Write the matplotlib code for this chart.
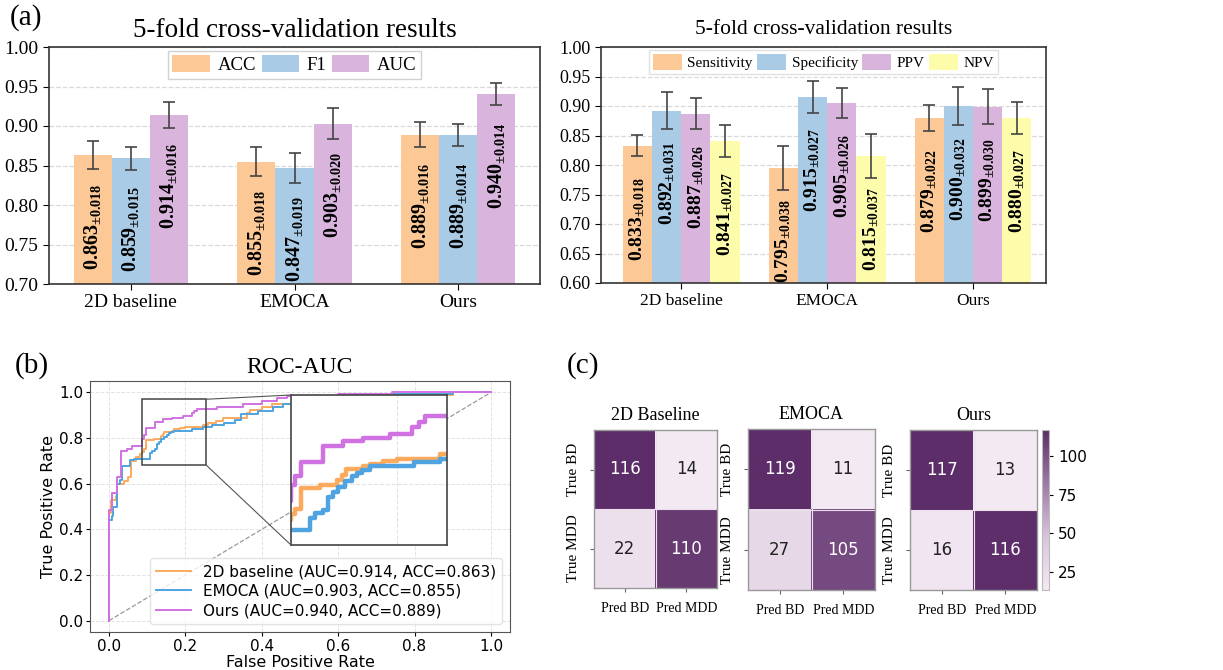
import numpy as np
import matplotlib
matplotlib.use('Agg')
import matplotlib.pyplot as plt
from matplotlib.colors import LinearSegmentedColormap
from matplotlib.patches import Rectangle, ConnectionPatch
from matplotlib.ticker import FormatStrFormatter

plt.rcParams['font.family'] = ['Liberation Serif', 'DejaVu Serif']
plt.rcParams['mathtext.default'] = 'regular'
plt.rcParams['mathtext.fontset'] = 'stix'

# ---------------- data ----------------
groups = ['2D baseline', 'EMOCA', 'Ours']

metrics_a = ['ACC', 'F1', 'AUC']
acc = [0.863, 0.855, 0.889]
acc_std = [0.018, 0.018, 0.016]
f1 = [0.859, 0.847, 0.889]
f1_std = [0.015, 0.019, 0.014]
auc = [0.914, 0.903, 0.940]
auc_std = [0.016, 0.020, 0.014]

metrics_b = ['Sensitivity', 'Specificity', 'PPV', 'NPV']
sens = [0.833, 0.795, 0.879]
sens_std = [0.018, 0.038, 0.022]
spec = [0.892, 0.915, 0.900]
spec_std = [0.031, 0.027, 0.032]
ppv = [0.887, 0.905, 0.899]
ppv_std = [0.026, 0.026, 0.030]
npv = [0.841, 0.815, 0.880]
npv_std = [0.027, 0.037, 0.027]

# ROC curves (step points: fpr where new tpr level starts)
fpr_2d = [0.0, 0.0, 0.005, 0.018, 0.022, 0.04, 0.05, 0.058, 0.07, 0.08, 0.0855, 0.0903,
          0.0965, 0.1173, 0.135, 0.1407, 0.145, 0.164, 0.1713, 0.1856, 0.20, 0.2468,
          0.26, 0.28, 0.298, 0.36, 0.37, 0.40, 0.427, 0.55, 0.70, 0.90, 1.0]
tpr_2d = [0.0, 0.47, 0.53, 0.545, 0.60, 0.61, 0.63, 0.70, 0.715, 0.73, 0.741, 0.751,
          0.791, 0.797, 0.807, 0.817, 0.828, 0.833, 0.838, 0.844, 0.848, 0.856,
          0.866, 0.876, 0.886, 0.908, 0.922, 0.937, 0.949, 0.97, 0.99, 1.0, 1.0]

fpr_emoca = [0.0, 0.0, 0.007, 0.01, 0.02, 0.028, 0.035, 0.055, 0.065, 0.074, 0.1065, 0.1119,
             0.12, 0.1263, 0.1317, 0.137, 0.1443, 0.1515, 0.157, 0.1623, 0.1713, 0.218, 0.2468,
             0.27, 0.30, 0.33, 0.345, 0.39, 0.43, 0.455, 0.60, 0.74, 0.90, 1.0]
tpr_emoca = [0.0, 0.44, 0.46, 0.50, 0.60, 0.617, 0.677, 0.703, 0.708, 0.71, 0.733, 0.743,
             0.750, 0.774, 0.784, 0.794, 0.804, 0.814, 0.821, 0.826, 0.833, 0.841, 0.848,
             0.855, 0.865, 0.88, 0.905, 0.92, 0.935, 0.948, 0.985, 0.993, 1.0, 1.0]

fpr_ours = [0.0, 0.0, 0.007, 0.02, 0.031, 0.047, 0.061, 0.0855, 0.0903, 0.0965, 0.120,
            0.1424, 0.164, 0.193, 0.216, 0.2234, 0.2306, 0.282, 0.352, 0.40, 0.439, 0.465,
            0.60, 0.74, 1.0]
tpr_ours = [0.0, 0.484, 0.557, 0.63, 0.744, 0.754, 0.766, 0.797, 0.814, 0.842, 0.872,
            0.882, 0.888, 0.896, 0.908, 0.918, 0.929, 0.937, 0.949, 0.963, 0.976, 0.984,
            0.993, 1.0, 1.0]

roc_labels = ['2D baseline (AUC=0.914, ACC=0.863)',
              'EMOCA (AUC=0.903, ACC=0.855)',
              'Ours (AUC=0.940, ACC=0.889)']

cm_titles = ['2D Baseline', 'EMOCA', 'Ours']
cm_2d = [[116, 14], [22, 110]]
cm_emoca = [[119, 11], [27, 105]]
cm_ours = [[117, 13], [16, 116]]
cm_xlabels = ['Pred BD', 'Pred MDD']
cm_ylabels = ['True BD', 'True MDD']

# ---------------- style ----------------
c_orange = '#fcc896'
c_blue = '#a9cbe6'
c_purple = '#d9b5de'
c_yellow = '#fdfcaa'
roc_colors = ['#fbaa5e', '#4fa3e0', '#d172e2']

W, H = 1223, 670
fig = plt.figure(figsize=(W / 100, H / 100), dpi=100)


def px_axes(x0, y0, x1, y1):
    return fig.add_axes([x0 / W, 1 - y1 / H, (x1 - x0) / W, (y1 - y0) / H])


def bar_panel(ax, series, stds, names, colors, width, label_off, fs_label):
    n = len(series)
    x = np.arange(len(groups))
    for i, (vals, errs, name, col) in enumerate(zip(series, stds, names, colors)):
        pos = x + (i - (n - 1) / 2) * width
        ax.bar(pos, vals, width, yerr=errs, color=col, label=name, capsize=4.5,
               error_kw=dict(elinewidth=1.2, ecolor='#444444', capthick=1.2), zorder=2)
        for p, v, e in zip(pos, vals, errs):
            ax.text(p, v - label_off, f'{v:.3f}' + r'$_{\pm' + f'{e:.3f}' + '}$',
                    rotation=90, ha='center', va='center', fontsize=fs_label,
                    fontweight='bold', zorder=3)
    ax.set_xticks(x)
    ax.set_xticklabels(groups)
    ax.yaxis.set_major_formatter(FormatStrFormatter('%.2f'))
    ax.grid(axis='y', ls='--', color='#d9d9d9', lw=0.9, zorder=0)
    ax.set_axisbelow(True)
    for s in ax.spines.values():
        s.set_color('#333333')
        s.set_linewidth(1.2)


# ---- (a) left ----
ax1 = px_axes(49, 47, 540, 284)
bar_panel(ax1, [acc, f1, auc], [acc_std, f1_std, auc_std], metrics_a,
          [c_orange, c_blue, c_purple], 0.233, 0.09, 14.5)
ax1.set_xlim(-0.5, 2.5)
ax1.set_ylim(0.70, 1.00)
ax1.set_yticks(np.arange(0.70, 1.001, 0.05))
ax1.tick_params(axis='both', labelsize=14, length=4)
ax1.set_title('5-fold cross-validation results', fontsize=19.5, pad=7)
ax1.legend(loc='upper center', ncol=3, fontsize=13.5, bbox_to_anchor=(0.5, 1.0),
           handlelength=2.0, handleheight=1.0, handletextpad=0.4, columnspacing=0.3,
           borderpad=0.25, borderaxespad=0.2, fancybox=False, edgecolor='#cccccc',
           framealpha=0.9)

# ---- (a) right ----
ax2 = px_axes(601, 47, 1046, 283)
bar_panel(ax2, [sens, spec, ppv, npv], [sens_std, spec_std, ppv_std, npv_std], metrics_b,
          [c_orange, c_blue, c_purple, c_yellow], 0.2, 0.124, 14)
ax2.set_xlim(-0.55, 2.5)
ax2.set_ylim(0.60, 1.00)
ax2.set_yticks(np.arange(0.60, 1.001, 0.05))
ax2.tick_params(axis='y', labelsize=13, length=4)
ax2.tick_params(axis='x', labelsize=12.5, length=4)
ax2.set_title('5-fold cross-validation results', fontsize=15.5, pad=9)
ax2.legend(loc='upper center', ncol=4, fontsize=11, bbox_to_anchor=(0.5, 1.0),
           handlelength=1.9, handleheight=1.2, handletextpad=0.35, columnspacing=0.3,
           borderpad=0.25, borderaxespad=0.2, fancybox=False, edgecolor='#dddddd',
           framealpha=0.9)

fig.text(10 / W, 1 - 4 / H, '(a)', fontsize=21, va='top', ha='left')

# ---- (b) ROC ----
sans = ['DejaVu Sans']
ax3 = px_axes(90, 381, 510, 632)
curves = [(fpr_2d, tpr_2d), (fpr_emoca, tpr_emoca), (fpr_ours, tpr_ours)]
for (fx, ty), col, lab in zip(curves, roc_colors, roc_labels):
    ax3.plot(fx, ty, drawstyle='steps-post', color=col, lw=1.4, label=lab, zorder=3)
ax3.plot([0, 1], [0, 1], ls='--', color='#999999', lw=0.9, zorder=2)
ax3.set_xlim(-0.05, 1.05)
ax3.set_ylim(-0.05, 1.05)
ax3.set_xticks(np.arange(0, 1.01, 0.2))
ax3.set_yticks(np.arange(0, 1.01, 0.2))
ax3.xaxis.set_major_formatter(FormatStrFormatter('%.1f'))
ax3.yaxis.set_major_formatter(FormatStrFormatter('%.1f'))
for lbl in ax3.get_xticklabels() + ax3.get_yticklabels():
    lbl.set_family(sans)
ax3.tick_params(labelsize=11, length=3, pad=2)
ax3.grid(True, ls='--', color='#e3e3e3', lw=0.7, zorder=0)
ax3.set_xlabel('False Positive Rate', family=sans, fontsize=11.5, labelpad=1)
ax3.set_ylabel('True Positive Rate', family=sans, fontsize=11.5, labelpad=2)
ax3.set_title('ROC-AUC', fontsize=17, pad=6)
for s in ax3.spines.values():
    s.set_color('#555555')
leg = ax3.legend(loc='lower right', prop={'family': 'DejaVu Sans', 'size': 11},
                 handlelength=2.3, labelspacing=0.3, borderpad=0.4, edgecolor='#dddddd',
                 borderaxespad=0.5)

zx0, zx1 = 0.086, 0.254
zy0, zy1 = 0.682, 0.97
axins = px_axes(291, 395, 447, 545)
for (fx, ty), col in zip(curves, roc_colors):
    axins.plot(fx, ty, drawstyle='steps-post', color=col, lw=3.2)
axins.plot([0, 1], [0, 1], ls='--', color='#999999', lw=0.9)
axins.set_xlim(zx0, zx1)
axins.set_ylim(zy0, zy1)
axins.set_xticks([0.2])
axins.set_yticks([0.8])
axins.tick_params(length=0, labelbottom=False, labelleft=False)
axins.grid(True, ls='--', color='#e3e3e3', lw=0.8)
for s in axins.spines.values():
    s.set_color('#444444')
    s.set_linewidth(1.2)
ax3.add_patch(Rectangle((zx0, zy0), zx1 - zx0, zy1 - zy0, fill=False, ec='#444444',
                        lw=1.1, zorder=4))
for ya, yb in [(zy1, 1), (zy0, 0)]:
    con = ConnectionPatch(xyA=(zx1, ya), coordsA=ax3.transData, xyB=(0, yb),
                          coordsB=axins.transAxes, color='#555555', lw=0.8)
    fig.add_artist(con)

fig.text(15 / W, 1 - 352 / H, '(b)', fontsize=21, va='top', ha='left')

# ---- (c) confusion matrices ----
cmap = LinearSegmentedColormap.from_list('pur', ['#f3e9f3', '#d9c4dc', '#9d7aa6', '#5c2d68'])
cm_boxes = [(594, 430, 717, 588), (748, 429, 875, 590), (910, 430, 1037, 590)]
ims = []
for title, cm, box in zip(cm_titles, [cm_2d, cm_emoca, cm_ours], cm_boxes):
    ax = px_axes(*box)
    arr = np.array(cm)
    im = ax.imshow(arr, cmap=cmap, vmin=arr.min(), vmax=arr.max(), aspect='auto')
    ims.append(im)
    norm = im.norm
    for i in range(2):
        for j in range(2):
            v = arr[i, j]
            col = 'white' if norm(v) > 0.5 else '#222222'
            ax.text(j, i, str(v), ha='center', va='center', color=col,
                    fontsize=12, family=sans)
    ax.axhline(0.5, color='#ece0ec', lw=0.8)
    ax.axvline(0.5, color='#ece0ec', lw=0.8)
    ax.set_xticks([0, 1])
    ax.set_xticklabels(cm_xlabels, fontsize=10)
    ax.set_yticks([0, 1])
    ax.set_yticklabels(cm_ylabels, fontsize=11, rotation=90, va='center')
    ax.tick_params(length=3, color='#666666', pad=7)
    ax.set_title(title, fontsize=13, pad=7)
    for s in ax.spines.values():
        s.set_color('#999999')
        s.set_linewidth(1.0)

cax = px_axes(1042, 430, 1049, 590)
cb = fig.colorbar(ims[2], cax=cax, ticks=[25, 50, 75, 100])
cb.outline.set_edgecolor('#bbbbbb')
cb.outline.set_linewidth(0.8)
cax.tick_params(labelsize=11, length=3)
for lbl in cax.get_yticklabels():
    lbl.set_family(sans)

fig.text(567 / W, 1 - 352 / H, '(c)', fontsize=21, va='top', ha='left')

fig.savefig('out.png', dpi=100)
